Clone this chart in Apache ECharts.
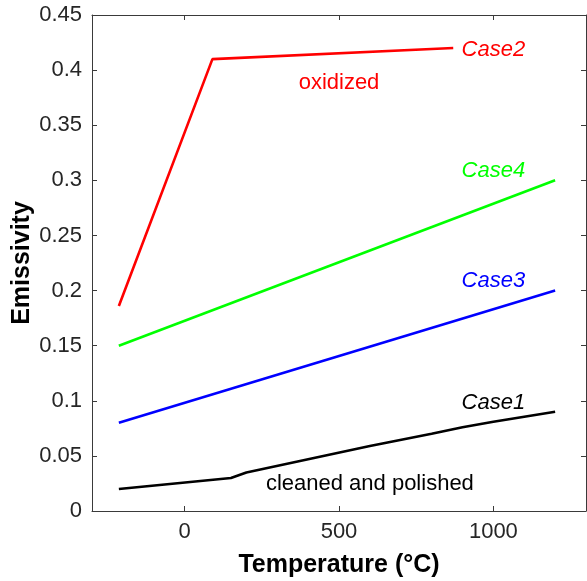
<!DOCTYPE html>
<html>
<head>
<meta charset="utf-8">
<script src="https://cdn.jsdelivr.net/npm/echarts@6/dist/echarts.min.js"></script>
<style>
html,body{margin:0;padding:0;background:#fff;}
#chart{width:587px;height:581px;}
</style>
</head>
<body>
<div id="chart"></div>
<script>
// temperature (°C) and emissivity for each case
const tempCase1=[-213,150,200,400,600,800,900,1000,1200];
const emisCase1=[0.02,0.03,0.035,0.047,0.059,0.070,0.076,0.081,0.09];
const tempCase2=[-213,90,870];
const emisCase2=[0.186,0.41,0.42];
const tempCase3=[-213,1200];
const emisCase3=[0.08,0.2];
const tempCase4=[-213,1200];
const emisCase4=[0.15,0.3];
const xTicks=[0,500,1000];

const FONT='Liberation Sans';
const AXIS_COLOR='#3a3a3a';

function pairs(xs,ys){
    var out=[];
    for(var i=0;i<xs.length;i++) out.push([xs[i],ys[i]]);
    return out;
}
// text label placed at a data coordinate
function note(text,x,y,color,italic){
    return {
        coord:[x,y],
        symbol:'rect',symbolSize:1,
        itemStyle:{color:'rgba(0,0,0,0)'},
        label:{show:true,position:'inside',formatter:text,color:color,
            fontFamily:FONT,fontSize:22,fontStyle:italic?'italic':'normal'}
    };
}
function lineSeries(name,data,color,notes){
    return {
        name:name,type:'line',data:data,showSymbol:false,silent:true,
        lineStyle:{color:color,width:2.6},
        itemStyle:{color:color},
        markPoint:{silent:true,animation:false,data:notes}
    };
}

var chart=echarts.init(document.getElementById('chart'));
var xBase={
    type:'value',min:-300,max:1300,
    splitLine:{show:false},
    axisLine:{show:true,onZero:false,lineStyle:{color:AXIS_COLOR,width:1}},
    axisTick:{show:true,inside:true,length:5,customValues:xTicks,lineStyle:{color:AXIS_COLOR}}
};
var yBase={
    type:'value',min:0,max:0.45,interval:0.05,
    splitLine:{show:false},
    axisLine:{show:true,onZero:false,lineStyle:{color:AXIS_COLOR,width:1}},
    axisTick:{show:true,inside:true,length:5,lineStyle:{color:AXIS_COLOR}}
};
chart.setOption({
    animation:false,
    grid:{left:92,top:15,right:1,bottom:70,outerBoundsMode:'none'},
    xAxis:[
        Object.assign({},xBase,{
            position:'bottom',
            name:'Temperature (°C)',nameLocation:'middle',nameGap:42,nameMoveOverlap:false,
            nameTextStyle:{fontFamily:FONT,fontSize:25,fontWeight:'bold',color:'#000'},
            axisLabel:{show:true,customValues:xTicks,margin:10,fontFamily:FONT,fontSize:22,color:'#262626',
                formatter:function(v){return String(v);}}
        }),
        Object.assign({},xBase,{position:'top',axisLabel:{show:false}})
    ],
    yAxis:[
        Object.assign({},yBase,{
            position:'left',
            name:'Emissivity',nameLocation:'middle',nameGap:57,nameMoveOverlap:false,
            nameTextStyle:{fontFamily:FONT,fontSize:25,fontWeight:'bold',color:'#000'},
            axisLabel:{show:true,margin:10,fontFamily:FONT,fontSize:22,color:'#262626'}
        }),
        Object.assign({},yBase,{position:'right',axisLabel:{show:false}})
    ],
    series:[
        lineSeries('Case1',pairs(tempCase1,emisCase1),'#000000',
            [note('Case1',1000,0.098,'#000000',true),note('cleaned and polished',600,0.0245,'#000000',false)]),
        lineSeries('Case2',pairs(tempCase2,emisCase2),'#ff0000',
            [note('Case2',1000,0.418,'#ff0000',true),note('oxidized',500,0.388,'#ff0000',false)]),
        lineSeries('Case3',pairs(tempCase3,emisCase3),'#0000ff',
            [note('Case3',1000,0.209,'#0000ff',true)]),
        lineSeries('Case4',pairs(tempCase4,emisCase4),'#00ff00',
            [note('Case4',1000,0.3085,'#00ff00',true)])
    ]
});
</script>
</body>
</html>
